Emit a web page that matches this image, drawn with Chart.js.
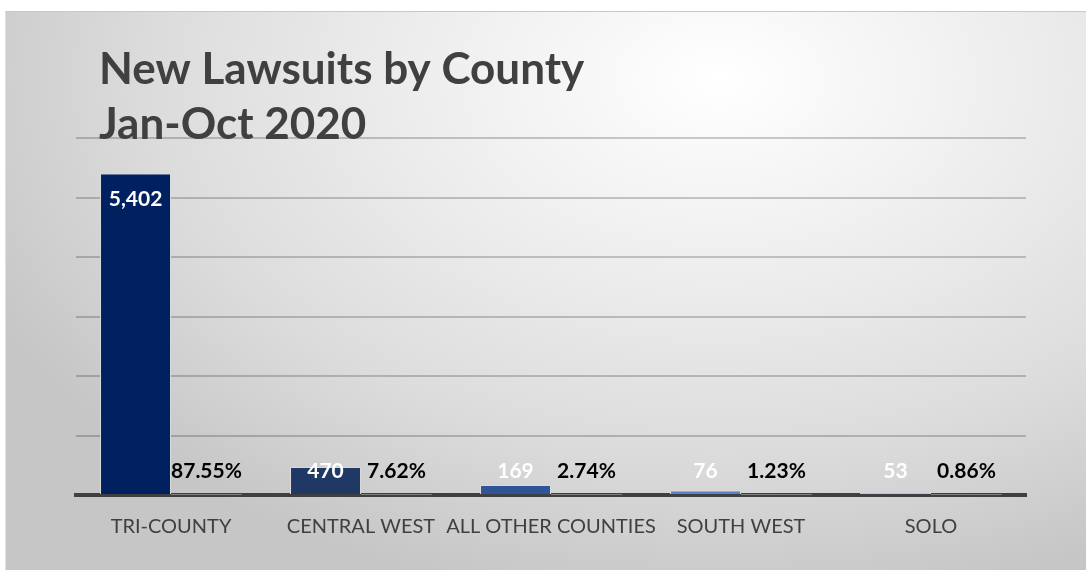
<!DOCTYPE html>
<html>
<head>
<meta charset="utf-8">
<script src="https://cdn.jsdelivr.net/npm/chart.js@4.4.1/dist/chart.umd.min.js"></script>
<style>
html,body{margin:0;padding:0;background:#fff;width:1086px;height:572px;overflow:hidden}
#panel{
position:absolute;left:5px;top:11px;width:1081px;height:559px;
border-top:1px solid #c8c8c8;border-left:1px solid #e0e0e0;box-sizing:border-box;
background:radial-gradient(ellipse 75% 95% at 66% 12%, #ffffff 0%, #ececec 40%, #dcdcdc 70%, #c6c6c6 100%);
}
#chart{position:absolute;left:0;top:0}
</style>
</head>
<body>
<div id="panel"><canvas id="chart" width="1081" height="559"></canvas></div>

<script>
// =============================
// DATA
// =============================
const counties = ["TRI-COUNTY","CENTRAL WEST","ALL OTHER COUNTIES","SOUTH WEST","SOLO"]
const lawsuits = [5402,470,169,76,53]
const shares = [0.8755,0.0762,0.0274,0.0123,0.0086]
const barColors = ["#002060","#203864","#2f5597","#5b7fc8","#b4c7e7"]
const titleLines = ["New Lawsuits by County","Jan-Oct 2020"]

const FONT = "Lato, 'Open Sans', sans-serif"

// =============================
// Title drawn over the plot (like the original)
// =============================
const overlayTitle = {
id:"overlayTitle",
afterDraw(chart){
let ctx = chart.ctx
ctx.save()
ctx.fillStyle = "#404040"
ctx.font = "bold 44px " + FONT
ctx.textBaseline = "alphabetic"
ctx.textAlign = "left"
ctx.fillText(titleLines[0],93,72)
ctx.fillText(titleLines[1],93,127)
ctx.restore()
}
}

// =============================
// Bar value labels
// =============================
const barLabels = {
id:"barLabels",
afterDatasetsDraw(chart){
let ctx = chart.ctx
let base = chart.scales.y.getPixelForValue(0)
ctx.save()
ctx.font = "bold 21px " + FONT
ctx.textAlign = "center"
ctx.textBaseline = "middle"

chart.getDatasetMeta(0).data.forEach((bar,i)=>{
ctx.fillStyle = "#ffffff"
let y = Math.min(bar.y + 26, base - 24)
ctx.fillText(lawsuits[i].toLocaleString("en-US"), bar.x, y)
})

chart.getDatasetMeta(1).data.forEach((bar,i)=>{
ctx.fillStyle = "#000000"
ctx.fillText((shares[i]*100).toFixed(2) + "%", bar.x, base - 24)
})
ctx.restore()
}
}

new Chart(document.getElementById("chart"),{

type:"bar",

data:{
labels:counties,
datasets:[{
label:"Lawsuits",
data:lawsuits,
backgroundColor:barColors,
borderColor:"#d9d9d9",
borderWidth:1
},{
label:"Share",
data:shares,
backgroundColor:"#7f7f7f",
borderWidth:0
}]
},

options:{
responsive:false,
animation:false,
devicePixelRatio:1,
layout:{padding:{left:70,top:126,right:61,bottom:0}},
datasets:{bar:{categoryPercentage:0.747,barPercentage:1}},
plugins:{
legend:{display:false},
tooltip:{enabled:false},
title:{display:false}
},
scales:{
x:{
grid:{display:false},
border:{display:true,color:"#404040",width:4},
ticks:{color:"#404040",font:{family:FONT,size:20},padding:12,maxRotation:0,autoSkip:false},
afterFit(scale){ scale.height = 76 }
},
y:{
min:0,
max:6000,
ticks:{display:false,stepSize:1000},
grid:{color:"rgba(0,0,0,0.2)",lineWidth:2,drawTicks:false},
border:{display:false},
afterFit(scale){ scale.width = 0 }
}
}
},

plugins:[overlayTitle,barLabels]

})
</script>
</body>
</html>
